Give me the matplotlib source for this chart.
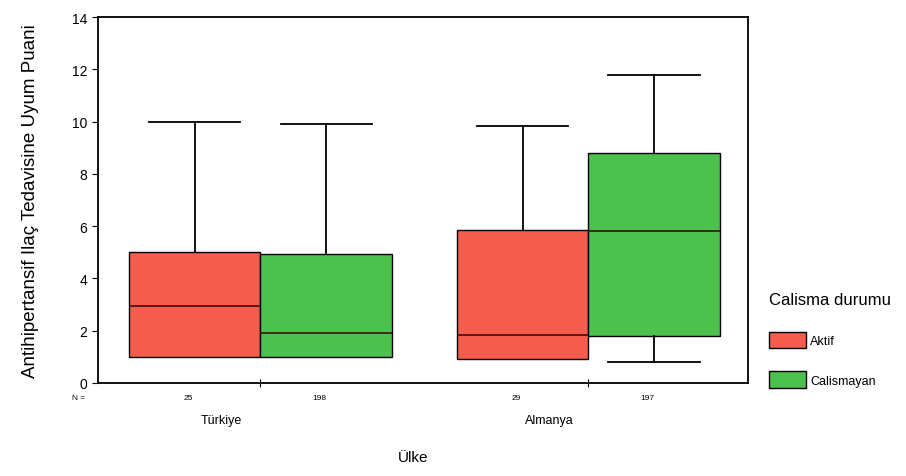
import matplotlib.pyplot as plt
from matplotlib.patches import Patch

plt.rcParams['font.family'] = ['Liberation Sans', 'DejaVu Sans']

# data
countries = ['Türkiye', 'Almanya']
groups = ['Aktif', 'Calismayan']
n_counts = [25, 198, 29, 197]
whislo = [1.0, 1.0, 0.9, 0.8]
q1 = [1.0, 1.0, 0.9, 1.8]
med = [2.95, 1.9, 1.85, 5.8]
q3 = [5.0, 4.95, 5.85, 8.8]
whishi = [10.0, 9.9, 9.85, 11.8]

colors = ['#f45d4c', '#4cc14e']

group_centers = [1.25, 3.77]
box_w = 1.01

positions = []
for c in group_centers:
    positions += [c - box_w / 2, c + box_w / 2]

stats = []
for i in range(len(med)):
    stats.append(dict(whislo=whislo[i], q1=q1[i], med=med[i], q3=q3[i],
                      whishi=whishi[i], fliers=[]))

fig = plt.figure(figsize=(9.06, 4.77), dpi=100)
ax = fig.add_axes([0.108, 0.195, 0.718, 0.767])

bp = ax.bxp(stats, positions=positions, widths=box_w, patch_artist=True,
            showfliers=False, capwidths=0.7,
            boxprops=dict(edgecolor='black', linewidth=1.0),
            medianprops=dict(color='#3a1010', linewidth=1.2),
            whiskerprops=dict(color='black', linewidth=1.3),
            capprops=dict(color='black', linewidth=1.3))
for i, box in enumerate(bp['boxes']):
    box.set_facecolor(colors[i % 2])
    # no lower whisker when min equals the lower quartile
    if whislo[i] == q1[i]:
        bp['caps'][2 * i].set_visible(False)

ax.set_xlim(0, 5)
ax.set_ylim(0, 14)
ax.set_yticks(range(0, 15, 2))
ax.tick_params(axis='y', labelsize=10, direction='out', length=4)
ax.set_xticks(group_centers)
ax.set_xticklabels([])
ax.tick_params(axis='x', direction='inout', length=6)
for s in ax.spines.values():
    s.set_linewidth(1.3)

ax.set_ylabel('Antihipertansif Ilaç Tedavisine Uyum Puani', fontsize=13.5, labelpad=24)

# N counts under each box
trans = ax.get_xaxis_transform()
ax.text(-0.02, -0.04, 'N =', transform=ax.transAxes, ha='right', va='center', fontsize=6)
for p, n in zip(positions, n_counts):
    ax.text(p - 0.05, -0.04, str(n), transform=trans, ha='center', va='center', fontsize=6)
for c, name in zip(group_centers, countries):
    ax.text(c - 0.3, -0.1, name, transform=trans, ha='center', va='center', fontsize=9)

fig.text(0.456, 0.025, 'Ülke', ha='center', va='bottom', fontsize=11)

handles = [Patch(facecolor=colors[i], edgecolor='black', label=groups[i]) for i in range(2)]
leg = fig.legend(handles=handles, title='Calisma durumu', loc='upper left',
                 bbox_to_anchor=(0.836, 0.41), frameon=False, fontsize=9,
                 title_fontsize=12, handlelength=3.0, handleheight=1.6,
                 labelspacing=1.9, handletextpad=0.3, alignment='left')
leg._legend_box.sep = 18

fig.savefig('out.png', dpi=100)
